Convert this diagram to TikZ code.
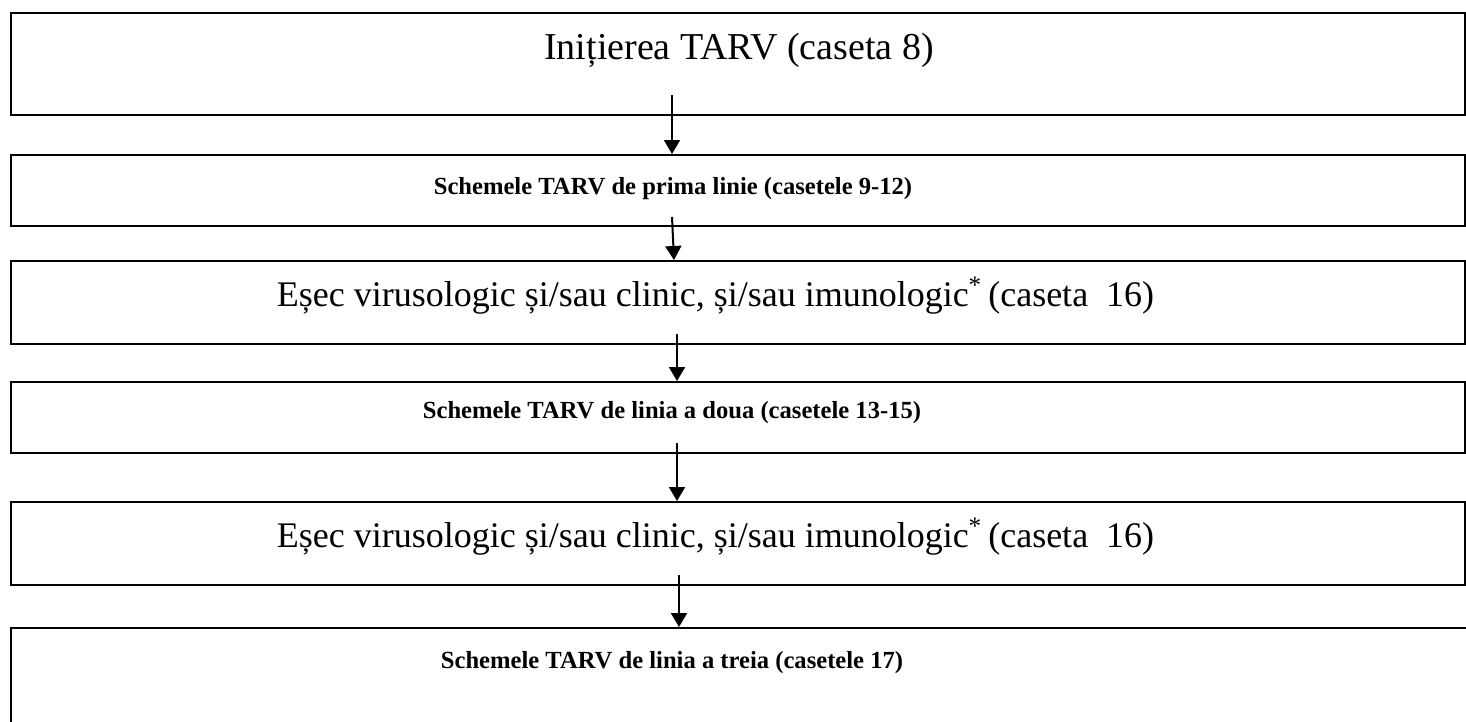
\documentclass[tikz,border=0pt]{standalone}
\usepackage{fontspec}
\setmainfont{Liberation Serif}
\usetikzlibrary{arrows.meta}
\begin{document}
\begin{tikzpicture}[x=0.5pt,y=-0.5pt,
  box/.style={draw,line width=1pt,minimum width=727pt,inner sep=0pt},
  arr/.style={-{Triangle[width=8pt,length=7pt]},line width=1pt},
  plain/.style={font=\fontsize{19}{21}\selectfont,anchor=base,inner sep=0pt},
  plainsm/.style={font=\fontsize{18}{20}\selectfont,anchor=base,inner sep=0pt},
  bold/.style={font=\bfseries\fontsize{12.3}{14}\selectfont,anchor=base,inner sep=0pt}]
\path[clip] (0,0) rectangle (1466,722);
\fill[white] (0,0) rectangle (1466,722);
% boxes
\node[box,minimum height=51pt] (b1) at (738,64) {};
\node[box,minimum height=35.5pt] (b2) at (738,190.5) {};
\node[box,minimum height=41.5pt] (b3) at (738,302.5) {};
\node[box,minimum height=35.5pt] (b4) at (738,417.5) {};
\node[box,minimum height=41.5pt] (b5) at (738,543.5) {};
\node[box,minimum width=734.5pt,minimum height=56pt] (b6) at (745.5,684) {};
% texts
\node[plain] (t1) at (739,60) {Inițierea TARV (caseta 8)};
\node[bold] (t2) at (673,194) {Schemele TARV de prima linie (casetele 9-12)};
\node[plainsm] (t3) at (715.5,306) {Eșec virusologic și/sau clinic, și/sau imunologic\textsuperscript{*}\,(caseta~ 16)};
\node[bold] (t4) at (672,418) {Schemele TARV de linia a doua (casetele 13-15)};
\node[plainsm] (t5) at (715.5,547) {Eșec virusologic și/sau clinic, și/sau imunologic\textsuperscript{*}\,(caseta~ 16)};
\node[bold] (t6) at (672,668) {Schemele TARV de linia a treia (casetele 17)};
% arrow anchors
\coordinate (s1) at (672,95);
\coordinate (s2) at (672,217);
\coordinate (x2) at (674,0);
\coordinate (s3) at (677,334);
\coordinate (s4) at (677,443);
\coordinate (s5) at (679,575);
\draw[arr] (s1) -- (b2.north -| s1);
\draw[arr] (s2) -- (b3.north -| x2);
\draw[arr] (s3) -- (b4.north -| s3);
\draw[arr] (s4) -- (b5.north -| s4);
\draw[arr] (s5) -- (b6.north -| s5);
\end{tikzpicture}
\end{document}
